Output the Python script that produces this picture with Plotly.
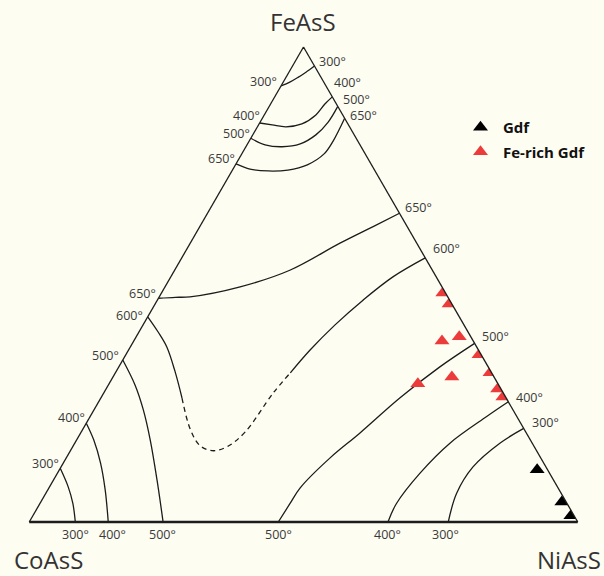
import plotly.graph_objects as go

# Compositions are mole % (FeAsS, CoAsS, NiAsS) for each isotherm
# ---- isotherms near the FeAsS apex ----
t300_top_fe = [91.8, 92.6, 93.6, 94.7, 96.0]
t300_top_co = [8.2, 6.2, 4.2, 2.2, 0.0]
t300_top_ni = [0.0, 1.2, 2.2, 3.1, 4.0]

t400_top_fe = [84.0, 83.6, 83.2, 83.8, 85.7, 88.0, 89.5]
t400_top_co = [16.0, 13.9, 11.6, 8.4, 4.9, 2.1, 0.0]
t400_top_ni = [0.0, 2.5, 5.2, 7.8, 9.4, 9.9, 10.5]

t500_top_fe = [80.8, 79.4, 79.0, 79.6, 81.5, 84.2, 87.5]
t500_top_co = [19.2, 17.3, 14.4, 10.8, 7.0, 3.4, 0.0]
t500_top_ni = [0.0, 3.3, 6.6, 9.6, 11.5, 12.4, 12.5]

t650_top_fe = [75.4, 74.3, 73.9, 74.1, 75.2, 77.5, 80.2, 85.0]
t650_top_co = [24.6, 22.6, 19.5, 15.8, 11.7, 7.5, 4.5, 0.0]
t650_top_ni = [0.0, 3.1, 6.6, 10.1, 13.1, 15.0, 15.3, 15.0]

# ---- central isotherms ----
t650_mid_fe = [47.1, 47.3, 47.4, 49.5, 53.0, 58.7, 62.2, 65.0]
t650_mid_co = [52.9, 49.7, 47.0, 36.8, 26.0, 14.0, 6.2, 0.0]
t650_mid_ni = [0.0, 3.0, 5.6, 13.7, 21.0, 27.3, 31.6, 35.0]

t600_left_fe = [43.2, 40.0, 36.8, 31.6, 26.1]
t600_left_co = [56.8, 56.5, 56.5, 57.6, 59.1]
t600_left_ni = [0.0, 3.5, 6.7, 10.8, 14.8]

t600_dash_fe = [26.1, 19.4, 16.0, 15.0, 16.0, 19.0, 27.2, 31.4]
t600_dash_co = [59.1, 60.9, 60.8, 58.9, 55.7, 51.1, 41.9, 36.7]
t600_dash_ni = [14.8, 19.7, 23.2, 26.1, 28.3, 29.9, 30.9, 31.9]

t600_right_fe = [31.4, 36.2, 41.5, 46.7, 51.6, 55.6]
t600_right_co = [36.7, 30.7, 23.5, 15.8, 7.9, 0.0]
t600_right_ni = [31.9, 33.1, 35.0, 37.5, 40.5, 44.4]

# ---- CoAsS-side isotherms ----
t500_co_fe = [34.1, 28.8, 23.6, 17.3, 8.8, 0.0]
t500_co_co = [65.9, 66.3, 67.4, 69.3, 72.3, 75.6]
t500_co_ni = [0.0, 4.9, 9.0, 13.4, 18.9, 24.4]

t400_co_fe = [20.8, 17.3, 12.4, 6.7, 0.0]
t400_co_co = [79.2, 79.6, 80.8, 82.8, 85.6]
t400_co_ni = [0.0, 3.1, 6.8, 10.5, 14.4]

t300_co_fe = [11.3, 7.4, 3.9, 0.0]
t300_co_co = [88.7, 89.2, 90.1, 91.6]
t300_co_ni = [0.0, 3.4, 6.0, 8.4]

# ---- NiAsS-side isotherms ----
t500_ni_fe = [37.6, 32.6, 26.1, 18.7, 13.5, 7.2, 3.9, 0.0]
t500_ni_co = [0.0, 8.9, 19.4, 30.4, 38.4, 47.0, 50.5, 54.6]
t500_ni_ni = [62.4, 58.5, 54.5, 50.9, 48.1, 45.8, 45.6, 45.4]

t400_ni_fe = [25.3, 22.2, 16.6, 10.3, 3.9, 0.0]
t400_ni_co = [0.0, 5.5, 15.0, 23.6, 31.1, 34.6]
t400_ni_ni = [74.7, 72.3, 68.4, 66.1, 65.0, 65.4]

t300_ni_fe = [19.7, 16.6, 11.6, 6.0, 0.0]
t300_ni_co = [0.0, 5.9, 13.3, 19.1, 23.6]
t300_ni_ni = [80.3, 77.5, 75.1, 74.9, 76.4]

# ---- analyses ----
gdf_fe = [11.0, 4.2, 1.3]
gdf_co = [1.9, 0.8, 0.6]
gdf_ni = [87.1, 95.0, 98.1]

fegdf_fe = [48.2, 45.9, 38.1, 39.0, 35.2, 31.4, 28.0, 26.3, 30.5, 29.1]
fegdf_co = [0.5, 0.5, 5.7, 2.1, 0.4, 0.3, 0.6, 0.5, 7.7, 14.6]
fegdf_ni = [51.3, 53.6, 56.2, 58.9, 64.4, 68.3, 71.4, 73.2, 61.8, 56.3]

# isotherm labels: (text, x px, y px)
iso_labels = [
    ("300°", 263, 81), ("400°", 246, 115), ("500°", 236, 133), ("650°", 221, 158),
    ("300°", 332, 61), ("400°", 347, 82), ("500°", 356, 99), ("650°", 363, 115),
    ("650°", 418, 207), ("600°", 446, 248),
    ("650°", 142, 293), ("600°", 129, 315), ("500°", 105, 355),
    ("400°", 71, 417), ("300°", 45, 463),
    ("500°", 495, 336), ("400°", 529, 397), ("300°", 545, 422),
    ("300°", 75, 534), ("400°", 112, 534), ("500°", 162, 534),
    ("500°", 278, 534), ("400°", 388, 534), ("300°", 445, 534),
]
corner_labels = [("FeAsS", 303, 22), ("CoAsS", 48, 559), ("NiAsS", 569, 559)]

W, H = 604, 576
BG = "#fdfdf2"
LINE = "#1c1c1c"

fig = go.Figure()

solid_sets = [
    (t300_top_fe, t300_top_co, t300_top_ni),
    (t400_top_fe, t400_top_co, t400_top_ni),
    (t500_top_fe, t500_top_co, t500_top_ni),
    (t650_top_fe, t650_top_co, t650_top_ni),
    (t650_mid_fe, t650_mid_co, t650_mid_ni),
    (t600_left_fe, t600_left_co, t600_left_ni),
    (t600_right_fe, t600_right_co, t600_right_ni),
    (t500_co_fe, t500_co_co, t500_co_ni),
    (t400_co_fe, t400_co_co, t400_co_ni),
    (t300_co_fe, t300_co_co, t300_co_ni),
    (t500_ni_fe, t500_ni_co, t500_ni_ni),
    (t400_ni_fe, t400_ni_co, t400_ni_ni),
    (t300_ni_fe, t300_ni_co, t300_ni_ni),
]
for a, b, c in solid_sets:
    fig.add_trace(go.Scatterternary(
        a=a, b=b, c=c, mode="lines",
        line=dict(color=LINE, width=1.3, shape="spline", smoothing=1.0),
        showlegend=False, hoverinfo="skip"))

fig.add_trace(go.Scatterternary(
    a=t600_dash_fe, b=t600_dash_co, c=t600_dash_ni, mode="lines",
    line=dict(color=LINE, width=1.3, shape="spline", smoothing=1.0, dash="5px,4px"),
    showlegend=False, hoverinfo="skip"))

# apex dot
fig.add_trace(go.Scatterternary(
    a=[100], b=[0], c=[0], mode="markers",
    marker=dict(color="#111", size=4), showlegend=False, hoverinfo="skip"))

fig.add_trace(go.Scatterternary(
    a=gdf_fe, b=gdf_co, c=gdf_ni, mode="markers", name="Gdf",
    legendgroup="g1",
    marker=dict(symbol="triangle-up", size=13, color="#000000")))
fig.add_trace(go.Scatterternary(
    a=fegdf_fe, b=fegdf_co, c=fegdf_ni, mode="markers", name="Fe-rich Gdf",
    legendgroup="g2",
    marker=dict(symbol="triangle-up", size=13, color="#ec3b3b")))

axis_common = dict(showgrid=False, showticklabels=False, ticks="",
                   linecolor=LINE, title=dict(text=""))

annotations = []
for txt, px, py in iso_labels:
    annotations.append(dict(
        text=txt, x=px / W, y=1 - py / H, xref="paper", yref="paper",
        xanchor="center", yanchor="middle", showarrow=False, borderpad=0,
        font=dict(family="Open Sans", size=12.5, color="#3a3a3a")))
for txt, px, py in corner_labels:
    annotations.append(dict(
        text=txt, x=px / W, y=1 - py / H, xref="paper", yref="paper",
        xanchor="center", yanchor="middle", showarrow=False, borderpad=0,
        font=dict(family="Open Sans", size=24, color="#333333")))

fig.update_layout(
    width=W, height=H,
    margin=dict(l=0, r=0, t=0, b=0),
    paper_bgcolor=BG,
    ternary=dict(
        sum=100,
        bgcolor=BG,
        domain=dict(x=[29 / W, 578 / W], y=[1 - 522 / H, 1 - 47 / H]),
        aaxis=dict(**axis_common, linewidth=1.3),
        baxis=dict(**axis_common, linewidth=2.6),
        caxis=dict(**axis_common, linewidth=1.3),
    ),
    legend=dict(
        x=458 / W, y=1 - 111 / H, xanchor="left", yanchor="top",
        bgcolor="rgba(0,0,0,0)", tracegroupgap=2, itemwidth=35,
        font=dict(family="Open Sans", size=15, color="#111", weight="bold"),
    ),
    annotations=annotations,
    showlegend=True,
)

fig.write_html("out.html")
